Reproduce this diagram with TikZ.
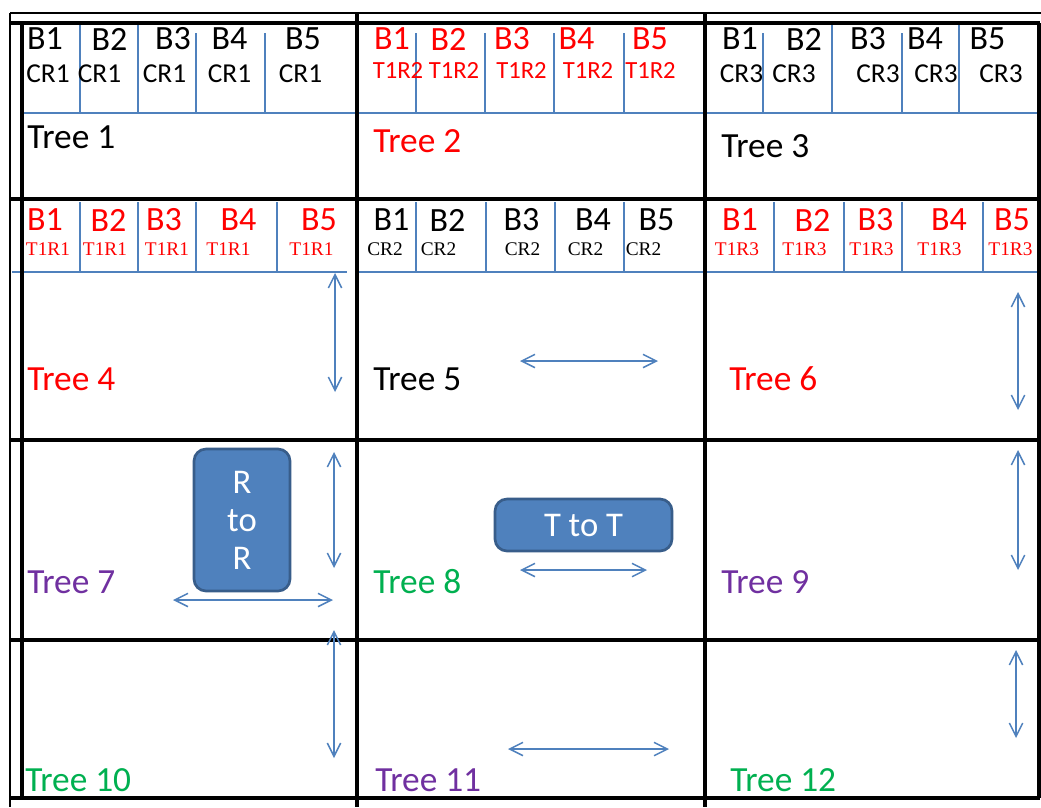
\documentclass[tikz,border=0pt]{standalone}
\usepackage{fontspec}
\setmainfont{Carlito}
\newfontfamily\seriffont{Liberation Serif}
\usetikzlibrary{arrows.meta}
\definecolor{lblue}{HTML}{4F81BD}
\definecolor{dblue}{HTML}{385D8A}
\definecolor{tpurple}{HTML}{7030A0}
\definecolor{tgreen}{HTML}{00B050}
\definecolor{tred}{HTML}{FF0000}
\begin{document}
\begin{tikzpicture}[x=0.75pt,y=-0.75pt,
 gridline/.style={line width=2.4pt, black},
 gridthin/.style={line width=1.5pt, black},
 bline/.style={lblue, line width=1.2pt},
 bh/.style={inner sep=0pt, font=\fontsize{25.5}{28}\selectfont},
 crs/.style={inner sep=0pt, font=\fontsize{20.5}{22}\selectfont},
 trs/.style={inner sep=0pt, font=\fontsize{18.5}{22}\selectfont},
 ser/.style={inner sep=0pt, font=\seriffont\fontsize{14.5}{17}\selectfont},
 treelabel/.style={inner sep=0pt, anchor=west, font=\fontsize{26.5}{30}\selectfont},
 darrow/.style={lblue, line width=1.1pt, {Straight Barb[length=10pt,width=10pt]}-{Straight Barb[length=10pt,width=10pt]}},
 tbox/.style={draw=dblue, fill=lblue, line width=2pt, rounded corners=9pt, text=white, font=\fontsize{26}{28.5}\selectfont, align=center, inner sep=0pt}
]
\fill[white] (0,0) rectangle (1041,807);
\useasboundingbox (0,0) rectangle (1041,807);

% blue header lines
\draw[bline] (22,113) -- (1040,113);
\foreach \x/\t in {80/23,138/23,196/33,265/33,416/33,485/33,554/33,624/33,763/33,832/23,902/33,959/23}
  \draw[bline] (\x,\t) -- (\x,113);
\draw[bline] (12,272) -- (347,272);
\draw[bline] (357,272) -- (1040,272);
\foreach \x in {80,138,196,277,416,486,555,624,774,844,902,983}
  \draw[bline] (\x,202) -- (\x,272);

% grid
\draw[gridthin] (10,13) -- (1041,13);
\draw[gridthin] (10,13) -- (10,807);
\draw[gridline, line width=3pt] (10,23) -- (1040,23);
\draw[gridline, line width=3pt] (22,23) -- (22,798);
\draw[gridline] (357,13) -- (357,807);
\draw[gridline] (705,13) -- (705,807);
\draw[gridline] (1039,23) -- (1039,798);
\foreach \y in {199,440,640,798}
  \draw[gridline] (10,\y) -- (1040,\y);

% row 1 headers
\foreach \x [count=\n] in {45,109.5,173,229.5,303}
  \node[bh] (aB\n) at (\x,39) {B\n};
\foreach \x [count=\n] in {48,99.5,164.5,229.5,300.5}
  \node[crs] (aC\n) at (\x,73.5) {CR1};
\foreach \x [count=\n] in {392,448.5,512,576.5,650}
  \node[bh, text=tred] (bB\n) at (\x,39) {B\n};
\foreach \x [count=\n] in {398,454,521.5,588,650.5}
  \node[trs, text=tred] (bC\n) at (\x,70) {T1R2};
\foreach \x [count=\n] in {740,804,868,925,987.5}
  \node[bh] (cB\n) at (\x,39) {B\n};
\foreach \x [count=\n] in {741.5,794,878,936,1001}
  \node[crs] (cC\n) at (\x,73.5) {CR3};

% row 2 headers
\foreach \x [count=\n] in {45,108.5,164,238.5,319}
  \node[bh, text=tred] (dB\n) at (\x,220) {B\n};
\foreach \x [count=\n] in {48,105,167,228.5,311.5}
  \node[ser, text=tred] (dC\n) at (\x,249) {T1R1};
\foreach \x [count=\n] in {391.5,447.5,521.5,593,656.5}
  \node[bh] (eB\n) at (\x,220) {B\n};
\foreach \x [count=\n] in {385,438.5,522.5,585.5,643.5}
  \node[ser] (eC\n) at (\x,249) {CR2};
\foreach \x [count=\n] in {740,812.5,875.5,949,1012}
  \node[bh, text=tred] (fB\n) at (\x,220) {B\n};
\foreach \x [count=\n] in {737,804.5,871.5,939.5,1010.5}
  \node[ser, text=tred] (fC\n) at (\x,249) {T1R3};

% tree labels
\node[treelabel] (t1) at (27,137) {Tree 1};
\node[treelabel, text=tred] (t2) at (373,141) {Tree 2};
\node[treelabel] (t3) at (721,146) {Tree 3};
\node[treelabel, text=tred] (t4) at (27,379) {Tree 4};
\node[treelabel] (t5) at (373,379) {Tree 5};
\node[treelabel, text=tred] (t6) at (729,379) {Tree 6};
\node[treelabel, text=tpurple] (t7) at (27,582) {Tree 7};
\node[treelabel, text=tgreen] (t8) at (373,582) {Tree 8};
\node[treelabel, text=tpurple] (t9) at (721,582) {Tree 9};
\node[treelabel, text=tgreen] (t10) at (25,780) {Tree 10};
\node[treelabel, text=tpurple] (t11) at (375,780) {Tree 11};
\node[treelabel, text=tgreen] (t12) at (730,780) {Tree 12};

% boxes
\node[tbox, minimum width=72pt, minimum height=106.5pt] (rr) at (242,520) {R\\to\\R};
\node[tbox, minimum width=132.75pt, minimum height=39pt] (tt) at (583.5,525) {T to T};

% arrows
\coordinate (a4s) at (335,273); \coordinate (a4e) at (335,392);
\coordinate (a5s) at (520,361); \coordinate (a5e) at (658,361);
\coordinate (a6s) at (1018,292); \coordinate (a6e) at (1018,410);
\coordinate (a7s) at (334,452); \coordinate (a7e) at (334,568);
\coordinate (a7hs) at (173,600); \coordinate (a7he) at (333,600);
\coordinate (a8s) at (520,570); \coordinate (a8e) at (647,570);
\coordinate (a9s) at (1018,450); \coordinate (a9e) at (1018,570);
\coordinate (a10s) at (334,630); \coordinate (a10e) at (334,758);
\coordinate (a11s) at (508,749); \coordinate (a11e) at (669,749);
\coordinate (a12s) at (1016,650); \coordinate (a12e) at (1016,738);
\foreach \a in {a4,a5,a6,a7,a7h,a8,a9,a10,a11,a12}
  \draw[darrow] (\a s) -- (\a e);
\end{tikzpicture}
\end{document}
